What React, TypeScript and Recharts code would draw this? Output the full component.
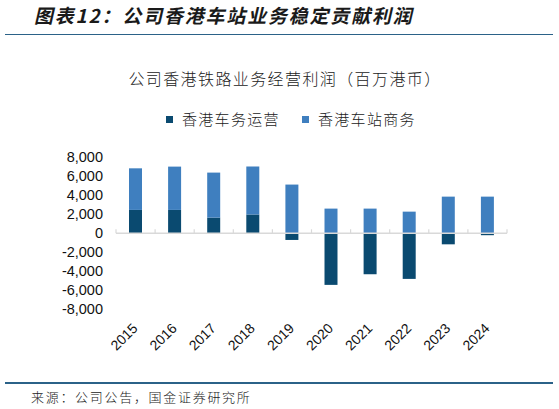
import React from 'react';
import { BarChart, Bar, XAxis, YAxis, ReferenceLine } from 'recharts';

const years = ['2015', '2016', '2017', '2018', '2019', '2020', '2021', '2022', '2023', '2024'];
const railOps = [2460, 2460, 1650, 1970, -700, -5430, -4310, -4800, -1160, -200];
const stationBiz = [4380, 4560, 4740, 5050, 5130, 2600, 2600, 2280, 3860, 3860];
const yTicks = [-8000, -6000, -4000, -2000, 0, 2000, 4000, 6000, 8000];

const seriesNames = ['香港车务运营', '香港车站商务'];
const seriesColors = ['#0a4a70', '#3f7fbf'];

const data = years.map((year, i) => ({ year, ops: railOps[i], station: stationBiz[i] }));

const CJK = '"Noto Sans CJK SC", "Noto Sans", sans-serif';
const LATIN = '"Liberation Sans", Arial, sans-serif';

const YearTick = (props: any) => {
  const { x, y, payload } = props;
  return (
    <g transform={`translate(${x + 3},${y + 20})`}>
      <text transform="rotate(-45)" textAnchor="end" fontSize={14} fill="#111" fontFamily={LATIN}>
        {payload.value}
      </text>
    </g>
  );
};

// zero line with small tick marks at the category boundaries
const ZeroLine = (props: any) => {
  const { x1, y1, x2 } = props;
  const n = years.length;
  const step = (x2 - x1) / n;
  return (
    <g>
      <line x1={x1} y1={y1} x2={x2} y2={y1} stroke="#d9d9d9" strokeWidth={1.5} />
      {Array.from({ length: n + 1 }, (_, i) => (
        <line key={i} x1={x1 + step * i} x2={x1 + step * i} y1={y1 - 4} y2={y1} stroke="#d9d9d9" strokeWidth={1.2} />
      ))}
    </g>
  );
};

export default function App() {
  return (
    <div style={{ position: 'absolute', left: 0, top: 0, width: 559, height: 409, background: '#fff', overflow: 'hidden' }}>
      <div
        style={{
          position: 'absolute', left: 33, top: 3, fontFamily: CJK, fontSize: 19, fontWeight: 'bold',
          letterSpacing: 1.8, color: '#1a1a1a', lineHeight: '24px', whiteSpace: 'nowrap',
          transform: 'skewX(-13deg)', transformOrigin: 'left bottom',
        }}
      >
        图表12：公司香港车站业务稳定贡献利润
      </div>
      <div style={{ position: 'absolute', left: 5, top: 33.5, width: 548, height: 1.6, background: '#2b6288' }} />

      <div
        style={{
          position: 'absolute', left: 0, width: 570, top: 67, textAlign: 'center', fontFamily: CJK, fontSize: 16,
          fontWeight: 300, letterSpacing: 1.4, color: '#222', lineHeight: '22px', whiteSpace: 'nowrap',
        }}
      >
        公司香港铁路业务经营利润（百万港币）
      </div>

      {seriesNames.map((name, i) => (
        <div
          key={name}
          style={{
            position: 'absolute', left: 166 + i * 136, top: 108, display: 'flex', alignItems: 'center',
            fontFamily: CJK, fontSize: 15, fontWeight: 300, letterSpacing: 1.3, color: '#222', lineHeight: '22px',
            whiteSpace: 'nowrap',
          }}
        >
          <span style={{ display: 'inline-block', width: 7, height: 7, background: seriesColors[i], marginRight: 9 }} />
          {name}
        </div>
      ))}

      <div style={{ position: 'absolute', left: 0, top: 0 }}>
        <BarChart
          width={559}
          height={409}
          data={data}
          stackOffset="sign"
          margin={{ top: 157.3, right: 52, bottom: 69.7, left: 16 }}
        >
          <YAxis
            width={100}
            domain={[-8000, 8000]}
            ticks={yTicks}
            interval={0}
            axisLine={false}
            tickLine={false}
            tickSize={0}
            tickMargin={13}
            tickFormatter={(v: number) => v.toLocaleString('en-US')}
            tick={{ fontSize: 14.5, fill: '#111', fontFamily: LATIN }}
          />
          <XAxis
            dataKey="year"
            height={30}
            interval={0}
            axisLine={false}
            tickLine={false}
            tickSize={0}
            tickMargin={0}
            tick={<YearTick />}
          />
          <Bar dataKey="ops" name={seriesNames[0]} stackId="a" fill={seriesColors[0]} barSize={13} isAnimationActive={false} />
          <Bar dataKey="station" name={seriesNames[1]} stackId="a" fill={seriesColors[1]} barSize={13} isAnimationActive={false} />
          <ReferenceLine y={0} shape={<ZeroLine />} />
        </BarChart>
      </div>

      <div style={{ position: 'absolute', left: 5, top: 382, width: 548, height: 1.6, background: '#2b6288' }} />
      <div
        style={{
          position: 'absolute', left: 31, top: 387, fontFamily: CJK, fontSize: 13, fontWeight: 300,
          letterSpacing: 1.7, color: '#222', lineHeight: '20px', whiteSpace: 'nowrap',
        }}
      >
        来源：公司公告，国金证券研究所
      </div>
    </div>
  );
}
